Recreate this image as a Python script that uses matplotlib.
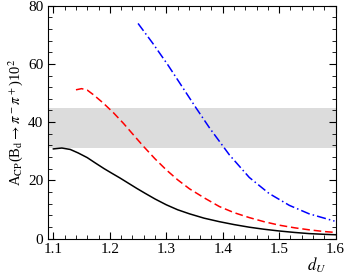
import matplotlib
matplotlib.use("Agg")
import matplotlib.pyplot as plt
from matplotlib.ticker import MultipleLocator

plt.rcParams['font.family'] = ['Liberation Serif', 'DejaVu Serif']
plt.rcParams['mathtext.fontset'] = 'stix'

# black solid
x_black = [1.100, 1.115, 1.130, 1.144, 1.160, 1.174, 1.190, 1.203, 1.218, 1.233, 1.248, 1.262,
           1.280, 1.300, 1.320, 1.341, 1.367, 1.394, 1.420, 1.447, 1.473, 1.500, 1.527, 1.553, 1.580, 1.600]
y_black = [30.8, 31.1, 30.6, 29.4, 27.8, 26.0, 24.0, 22.5, 20.8, 19.0, 17.2, 15.6,
           13.6, 11.6, 9.9, 8.5, 7.0, 5.8, 4.8, 3.9, 3.2, 2.6, 2.1, 1.7, 1.45, 1.3]

# red dashed
x_red = [1.140, 1.150, 1.160, 1.171, 1.188, 1.206, 1.224, 1.241, 1.259, 1.280, 1.300, 1.320,
         1.341, 1.367, 1.394, 1.420, 1.447, 1.473, 1.500, 1.527, 1.553, 1.580, 1.600]
y_red = [51.1, 51.5, 51.0, 49.4, 46.6, 43.3, 39.6, 35.8, 31.8, 27.4, 23.6, 20.2,
         17.1, 14.0, 11.0, 8.9, 7.2, 5.8, 4.6, 3.7, 3.0, 2.4, 2.1]

# blue dash-dot
x_blue = [1.250, 1.276, 1.303, 1.329, 1.353, 1.377, 1.412, 1.447, 1.482, 1.518, 1.553, 1.598]
y_blue = [73.9, 67.1, 59.6, 51.9, 44.8, 37.9, 28.7, 21.0, 15.5, 11.4, 8.5, 6.0]

band = (31.1, 44.8)

fig = plt.figure(figsize=(3.46, 2.79), dpi=100)
ax = fig.add_axes([0.1396, 0.145, 0.8304, 0.8346])

ax.axhspan(band[0], band[1], color='#dcdcdc', lw=0, zorder=0)
ax.plot(x_black, y_black, color='black', lw=1.1)
ax.plot(x_red, y_red, color='red', lw=1.1, ls=(0, (5, 2.5)))
ax.plot(x_blue, y_blue, color='blue', lw=1.1, ls=(0, (6, 2, 1, 2)))

ax.set_xlim(1.091, 1.6)
ax.set_ylim(0, 80)
ax.xaxis.set_major_locator(MultipleLocator(0.1))
ax.xaxis.set_minor_locator(MultipleLocator(0.02))
ax.yaxis.set_major_locator(MultipleLocator(20))
ax.yaxis.set_minor_locator(MultipleLocator(4))
ax.tick_params(which='both', direction='in', top=True, right=True, labelsize=11)
ax.tick_params(which='major', length=5, width=0.8)
ax.tick_params(which='minor', length=3, width=0.6)
for s in ax.spines.values():
    s.set_linewidth(0.8)

ax.set_xlabel(r'$d_{U}$', fontsize=12)
ax.xaxis.set_label_coords(0.935, -0.075)
ax.set_ylabel(r'A$_{\rm CP}$(B$_{\rm d}$$\rightarrow$$\pi^-\pi^+$)10$^2$', fontsize=10.5, labelpad=2)

fig.savefig('out.png', dpi=100)
